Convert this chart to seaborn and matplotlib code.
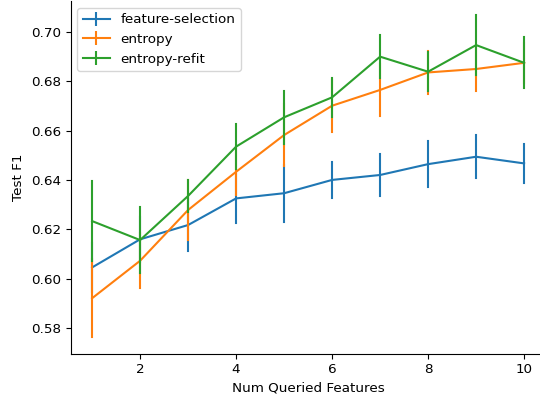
import matplotlib
matplotlib.use("Agg")
import matplotlib.pyplot as plt
from matplotlib.lines import Line2D
import pandas as pd
import seaborn as sns

# values (mean and half-width of the error bar)
num_features = [1, 2, 3, 4, 5, 6, 7, 8, 9, 10]
methods = ["feature-selection", "entropy", "entropy-refit"]
colors = ["#1f77b4", "#ff7f0e", "#2ca02c"]

fs_mean = [0.6045, 0.6159, 0.6217, 0.6325, 0.6346, 0.6400, 0.6420, 0.6464, 0.6494, 0.6467]
fs_err = [0.0100, 0.0090, 0.0104, 0.0100, 0.0115, 0.0072, 0.0085, 0.0092, 0.0088, 0.0078]

ent_mean = [0.5920, 0.6072, 0.6278, 0.6433, 0.6582, 0.6701, 0.6765, 0.6836, 0.6850, 0.6875]
ent_err = [0.0158, 0.0111, 0.0122, 0.0094, 0.0124, 0.0105, 0.0104, 0.0087, 0.0089, 0.0080]

refit_mean = [0.6233, 0.6156, 0.6335, 0.6535, 0.6654, 0.6735, 0.6900, 0.6839, 0.6947, 0.6875]
refit_err = [0.0162, 0.0134, 0.0065, 0.0092, 0.0107, 0.0080, 0.0086, 0.0078, 0.0122, 0.0104]


def long_form(method, means, errs):
    # two rows per x (mean - err, mean + err) so that the mean and the
    # min..max interval reproduce the bars
    rows = []
    for x, m, e in zip(num_features, means, errs):
        rows.append({"Num Queried Features": x, "Test F1": m - e, "method": method})
        rows.append({"Num Queried Features": x, "Test F1": m + e, "method": method})
    return rows


df = pd.DataFrame(long_form(methods[0], fs_mean, fs_err)
                  + long_form(methods[1], ent_mean, ent_err)
                  + long_form(methods[2], refit_mean, refit_err))

plt.rcParams["font.size"] = 9.7

fig = plt.figure(figsize=(5.4, 4.0), dpi=100)
ax = fig.add_axes([70.5 / 540, 46.3 / 400, 475.2 / 540, 352.5 / 400])

sns.lineplot(data=df, x="Num Queried Features", y="Test F1", hue="method",
             hue_order=methods, palette=colors, estimator="mean",
             errorbar=("pi", 100), err_style="bars", linewidth=1.5,
             legend=False, ax=ax)

ax.set_xlim(0.55, 10.45)
ax.set_ylim(0.5695, 0.7125)
ax.set_xticks([2, 4, 6, 8, 10])
ax.set_yticks([0.58, 0.60, 0.62, 0.64, 0.66, 0.68, 0.70])
ax.set_xlabel("Num Queried Features")
ax.set_ylabel("Test F1")
sns.despine(ax=ax)

handles = [Line2D([], [], color=c, linewidth=1.5, marker="|", markersize=10,
                  markeredgewidth=1.5) for c in colors]
ax.legend(handles, methods, loc="upper left")

fig.savefig("out.png", dpi=100)
